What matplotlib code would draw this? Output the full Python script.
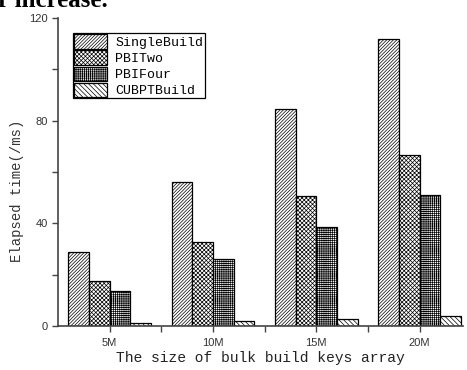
import numpy as np
import matplotlib
matplotlib.use('Agg')
import matplotlib.pyplot as plt
from matplotlib.ticker import MultipleLocator

sizes = ['5M', '10M', '15M', '20M']
single_build = [28.7, 56.2, 84.4, 111.7]
pbi_two = [17.5, 32.7, 50.8, 66.5]
pbi_four = [13.6, 26.1, 38.7, 50.9]
cubpt_build = [1.0, 1.8, 2.7, 3.9]
series_names = ['SingleBuild', 'PBITwo', 'PBIFour', 'CUBPTBuild']


def main():
	plt.rcParams['hatch.linewidth'] = 0.5
	mono = 'Liberation Mono'
	sans = 'Liberation Sans'

	fig = plt.figure(figsize=(4.67, 3.70), dpi=100)
	ax = fig.add_axes([58 / 467, 44 / 370, 405 / 467, 308 / 370])

	########### bars ###########
	x = np.arange(len(sizes))
	w = 0.2
	hatches = ['/' * 10, 'x' * 8, '+' * 8, '\\' * 7]
	all_series = [single_build, pbi_two, pbi_four, cubpt_build]
	for i, (vals, name) in enumerate(zip(all_series, series_names)):
		ax.bar(x + (i - 1.5) * w, vals, w, color='white', edgecolor='black',
			linewidth=0.9, hatch=hatches[i], label=name, zorder=2)

	########### axes ###########
	ax.set_xlim(-0.5, 3.42)
	ax.set_ylim(0, 120)
	ax.set_xticks(x)
	ax.set_xticklabels(sizes, family=sans, fontsize=8, color='#333333')
	ax.set_xticks(x[:-1] + 0.5, minor=True)
	ax.yaxis.set_major_locator(MultipleLocator(40))
	ax.yaxis.set_minor_locator(MultipleLocator(20))
	for lab in ax.get_yticklabels():
		lab.set_family(sans)
		lab.set_fontsize(8)
		lab.set_color('#333333')
	ax.tick_params(which='both', direction='out', color='#444444', width=1, length=4)
	ax.tick_params(axis='x', pad=5)
	for s in ['top', 'right']:
		ax.spines[s].set_visible(False)
	for s in ['left', 'bottom']:
		ax.spines[s].set_color('#444444')
		ax.spines[s].set_linewidth(1.2)

	ax.set_ylabel('Elapsed time(/ms)', family=mono, fontsize=10, color='#333333')
	ax.yaxis.set_label_coords(-0.085, 0.44)
	ax.set_xlabel('The size of bulk build keys array', family=mono, fontsize=10.5, color='#222222', labelpad=2)

	leg = ax.legend(loc='upper left', bbox_to_anchor=(0.037, 0.951), borderaxespad=0,
		prop={'family': mono, 'size': 9.5}, handlelength=2.5, handleheight=1.27,
		labelspacing=0.12, handletextpad=0.6, borderpad=0.1, fancybox=False,
		framealpha=1, edgecolor='black')
	leg.get_frame().set_linewidth(0.9)

	# bit of the surrounding page text cut off at the top
	fig.text(-0.005, 1 - 7 / 370, 'r increase.', family='Liberation Serif', fontweight='bold',
		fontsize=18, va='baseline', ha='left')

	fig.savefig('out.png', dpi=100)


if __name__ == '__main__':
	main()
